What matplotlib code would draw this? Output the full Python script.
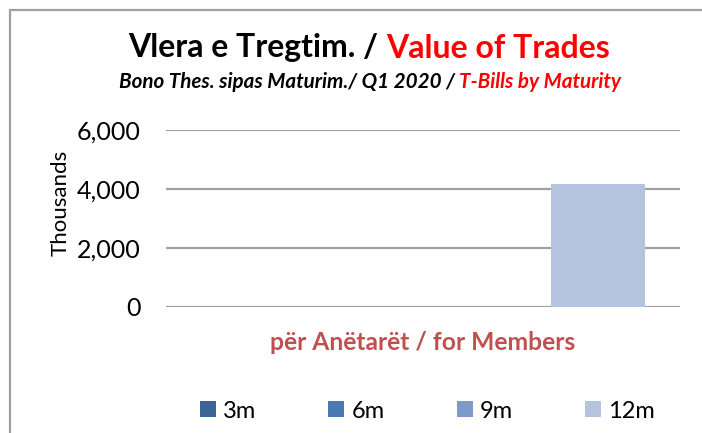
import matplotlib
matplotlib.use("Agg")
import matplotlib.pyplot as plt
from matplotlib.patches import Rectangle, Patch

# Data
categories = ["për Anëtarët / for Members"]
maturities = ["3m", "6m", "9m", "12m"]
values = [0, 0, 0, 4170]          # thousands
colors = ["#3C6496", "#4A7AB4", "#7E9BC8", "#B4C3DE"]
yticks = [0, 2000, 4000, 6000]
ytick_labels = ["0", "2,000", "4,000", "6,000"]

W, H = 702, 433
FONT = "Lato"
plt.rcParams["font.family"] = [FONT, "DejaVu Sans"]

fig = plt.figure(figsize=(W / 100, H / 100), dpi=100)
fig.patch.set_facecolor("white")

def fx(px):
    return px / W

def fy(py):
    return 1 - py / H

# chart frame (runs off the right and bottom edges)
fig.patches.append(Rectangle((fx(9.5), fy(H + 20)), fx(W + 40), (H + 20 - 9.5) / H,
                             transform=fig.transFigure, facecolor="none",
                             edgecolor="#A0A0A0", linewidth=1.6, zorder=0))

ax = fig.add_axes([fx(166), fy(307), fx(680) - fx(166), (307 - 130) / H])
ax.set_xlim(0, 1)
ax.set_ylim(0, 6000)
for s in ax.spines.values():
    s.set_visible(False)
ax.set_yticks(yticks)
ax.set_yticklabels(ytick_labels, fontsize=18)
ax.tick_params(axis="y", length=0, pad=18.5)
ax.set_xticks([])
ax.yaxis.grid(True, color="#A0A0A0", linewidth=1.6)
ax.set_axisbelow(True)

step = 0.227
width = 0.183
for i, (m, v, c) in enumerate(zip(maturities, values, colors)):
    ax.bar(0.5 + (i - 1.5) * step, v, width=width, color=c, label=m, zorder=2)

fig.text(fx(61), fy(203), "Thousands", rotation=90, ha="center", va="center", fontsize=16)

# category label
fig.text(fx(423), fy(343), categories[0], ha="center", va="center",
         fontsize=17.7, fontweight="bold", color="#C0504D")

def multicolor_text(x_center, y, parts, **kw):
    r = fig.canvas.get_renderer()
    texts = []
    for s, c in parts:
        t = fig.text(0, fy(y), s, color=c, va="center", ha="left", **kw)
        texts.append(t)
    widths = [t.get_window_extent(r).width for t in texts]
    x = x_center - sum(widths) / 2
    for t, w in zip(texts, widths):
        t.set_x(fx(x))
        x += w

multicolor_text(369, 48, [("Vlera e Tregtim. / ", "black"), ("Value of Trades", "#FF0000")],
                fontsize=23, fontweight="bold")
multicolor_text(370, 82, [("Bono Thes. sipas Maturim./ Q1 2020 / ", "black"),
                          ("T-Bills by Maturity", "#FF0000")],
                fontsize=14.9, fontweight="bold", fontstyle="italic")

handles = [Patch(facecolor=c, edgecolor="none") for c in colors]
leg = fig.legend(handles, maturities, loc="center left",
                 bbox_to_anchor=(fx(200), fy(411)), ncol=4, frameon=False,
                 fontsize=17, handlelength=0.68, handleheight=0.68,
                 handletextpad=0.3, columnspacing=3.05, borderpad=0, borderaxespad=0)

fig.savefig("out.png", dpi=100)
